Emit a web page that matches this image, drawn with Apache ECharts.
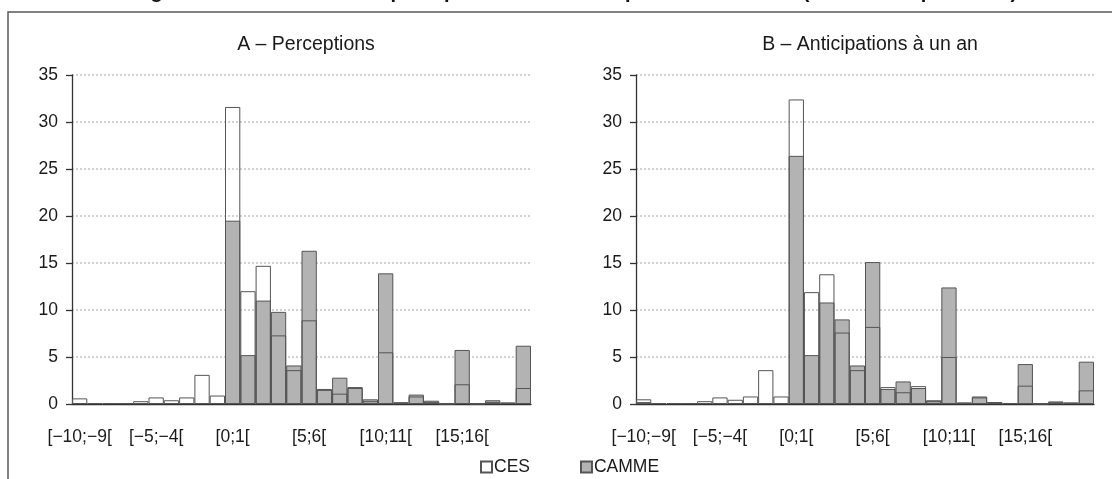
<!DOCTYPE html>
<html>
<head>
<meta charset="utf-8">
<script src="https://cdn.jsdelivr.net/npm/echarts@6/dist/echarts.min.js"></script>
<style>
  html, body { margin: 0; padding: 0; background: #fff; }
  #main { width: 1112px; height: 479px; }
</style>
</head>
<body>
<div id="main"></div>
<script>
// classes d'inflation [-10;-9[ ... [19;20[
var categories = [];
for (var k = -10; k < 20; k++) {
    categories.push('[' + String(k).replace('-', '\u2212') + ';' + String(k + 1).replace('-', '\u2212') + '[');
}

// A - Perceptions (en %)
var cesA   = [0.6, 0.1, 0.1, 0.1, 0.3, 0.7, 0.4, 0.7, 3.1, 0.9,
              31.6, 12.0, 14.7, 7.3, 3.6, 8.9, 1.5, 1.1, 1.7, 0.3,
              5.5, 0.2, 0.8, 0.2, 0.05, 2.1, 0.05, 0.2, 0.15, 1.7];
var cammeA = [0.1, 0.1, 0.1, 0.1, 0.1, 0.1, 0.1, 0.1, 0.1, 0.1,
              19.5, 5.2, 11.0, 9.8, 4.1, 16.3, 1.6, 2.8, 1.8, 0.5,
              13.9, 0.1, 1.0, 0.35, 0.05, 5.75, 0.05, 0.4, 0.15, 6.2];

// B - Anticipations a un an (en %)
var cesB   = [0.5, 0.1, 0.1, 0.1, 0.3, 0.7, 0.45, 0.8, 3.6, 0.8,
              32.4, 11.9, 13.8, 7.6, 3.6, 8.2, 1.8, 1.25, 1.9, 0.3,
              5.0, 0.15, 0.7, 0.2, 0.1, 1.95, 0.05, 0.25, 0.15, 1.45];
var cammeB = [0.2, 0.1, 0.1, 0.1, 0.1, 0.1, 0.1, 0.1, 0.1, 0.1,
              26.4, 5.2, 10.8, 9.0, 4.1, 15.1, 1.6, 2.4, 1.7, 0.4,
              12.4, 0.15, 0.8, 0.2, 0.1, 4.25, 0.05, 0.25, 0.15, 4.5];

var yTicks = [0, 35, 5]; // min, max, pas

var FONT = '"Liberation Sans", Arial, sans-serif';
var TXT = '#1a1a1a';
var EDGE = '#555555';

var myChart = echarts.init(document.getElementById('main'), null, { renderer: 'canvas' });

function xAx(gi) {
    return {
        type: 'category',
        gridIndex: gi,
        data: categories,
        boundaryGap: true,
        axisLine: { lineStyle: { color: '#333', width: 1.3 } },
        axisTick: { interval: 4, length: 6, lineStyle: { color: '#333', width: 1.3 } },
        axisLabel: { interval: 4, showMinLabel: true, hideOverlap: false,
                     fontFamily: FONT, fontSize: 17.5, color: TXT, margin: 24 }
    };
}
function yAx(gi) {
    return {
        type: 'value',
        gridIndex: gi,
        min: yTicks[0], max: yTicks[1], interval: yTicks[2],
        axisLine: { show: true, lineStyle: { color: '#333', width: 1.3 } },
        axisTick: { show: true, length: 6, lineStyle: { color: '#333', width: 1.3 } },
        axisLabel: { fontFamily: FONT, fontSize: 17.5, color: TXT, margin: 14 },
        splitLine: { lineStyle: { color: '#c4c4c4', width: 1.5, type: [2, 2] } }
    };
}
function barsCamme(idx, data) {
    return {
        name: 'CAMME', type: 'bar', xAxisIndex: idx, yAxisIndex: idx, data: data,
        barGap: '-100%', barCategoryGap: '0%',
        itemStyle: { color: '#b3b3b3', borderColor: EDGE, borderWidth: 1 },
        emphasis: { disabled: true }
    };
}
function barsCes(idx, data) {
    return {
        name: 'CES', type: 'bar', xAxisIndex: idx, yAxisIndex: idx, data: data,
        barGap: '-100%', barCategoryGap: '0%',
        itemStyle: { color: 'rgba(255,255,255,0)', borderColor: EDGE, borderWidth: 1 },
        emphasis: { disabled: true }
    };
}

var option = {
    animation: false,
    backgroundColor: '#fff',
    title: [
        { text: 'A \u2013 Perceptions', left: 301, top: 30, textAlign: 'center',
          textStyle: { fontFamily: FONT, fontSize: 19.5, fontWeight: 'normal', color: TXT } },
        { text: 'B \u2013 Anticipations \u00e0 un an', left: 865, top: 30, textAlign: 'center',
          textStyle: { fontFamily: FONT, fontSize: 19.5, fontWeight: 'normal', color: TXT } }
    ],
    legend: {
        data: ['CES', 'CAMME'],
        left: 475, top: 453,
        itemWidth: 11, itemHeight: 11, itemGap: 50,
        icon: 'rect',
        textStyle: { fontFamily: FONT, fontSize: 17.5, color: TXT, padding: [0, 0, 0, -3] }
    },
    grid: [
        { left: 72, right: 581, top: 75, bottom: 75 },
        { left: 636, right: 18, top: 75, bottom: 75 }
    ],
    xAxis: [xAx(0), xAx(1)],
    yAxis: [yAx(0), yAx(1)],
    series: [
        barsCamme(0, cammeA), barsCes(0, cesA),
        barsCamme(1, cammeB), barsCes(1, cesB)
    ],
    graphic: [
        { type: 'rect', silent: true, z: 100,
          shape: { x: 8, y: 12, width: 1200, height: 600 },
          style: { fill: 'none', stroke: '#595959', lineWidth: 1.5 } },
        { type: 'text', silent: true, x: 575, y: 2,
          style: { text: 'Figure 2 \u2013 Distribution des perceptions et des anticipations d\u2019inflation (en % des r\u00e9pondants)',
                   font: 'bold 20px ' + FONT, fill: '#111', align: 'center', verticalAlign: 'bottom' } }
    ]
};

myChart.setOption(option);
</script>
</body>
</html>
